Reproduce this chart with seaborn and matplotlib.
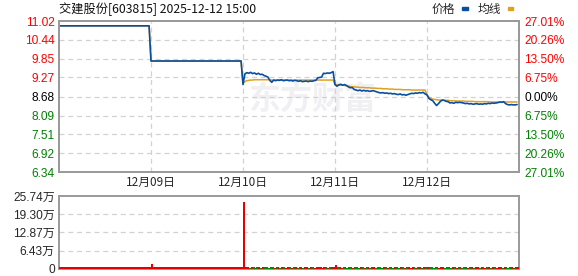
import numpy as np
import pandas as pd
import matplotlib
matplotlib.use("Agg")
import matplotlib.pyplot as plt
import seaborn as sns
from matplotlib.patches import Rectangle

# ---------------- data ----------------
title = "交建股份[603815] 2025-12-12 15:00"
day_labels = ["12月09日", "12月10日", "12月11日", "12月12日"]
price_ticks = [6.34, 6.92, 7.51, 8.09, 8.68, 9.27, 9.85, 10.44, 11.02]
pct_labels = ["27.01%", "20.26%", "13.50%", "6.75%", "0.00%", "6.75%", "13.50%", "20.26%", "27.01%"]
vol_ticks = [0, 6.43, 12.87, 19.30, 25.74]
vol_labels = ["0", "6.43万", "12.87万", "19.30万", "25.74万"]

price_d1 = [10.87] * 48
price_d2 = [9.78] * 48
price_d3 = [9.05, 9.38, 9.42, 9.40, 9.43, 9.39, 9.41, 9.37, 9.40, 9.36, 9.37, 9.33,
            9.31, 9.28, 9.18, 9.12, 9.19, 9.17, 9.19, 9.18, 9.20, 9.17, 9.18, 9.19,
            9.17, 9.18, 9.16, 9.18, 9.17, 9.15, 9.17, 9.14, 9.15, 9.16, 9.14, 9.16,
            9.15, 9.17, 9.18, 9.26, 9.27, 9.28, 9.40, 9.39, 9.41, 9.40, 9.42, 9.45]
price_d4 = [9.05, 9.00, 9.04, 9.06, 9.03, 9.05, 9.02, 8.98, 8.95, 8.96, 8.90, 8.88,
            8.86, 8.88, 8.85, 8.87, 8.85, 8.86, 8.84, 8.85, 8.86, 8.84, 8.82, 8.80,
            8.79, 8.80, 8.78, 8.79, 8.77, 8.78, 8.76, 8.77, 8.75, 8.74, 8.76, 8.73,
            8.74, 8.72, 8.74, 8.76, 8.78, 8.77, 8.79, 8.78, 8.80, 8.79, 8.81, 8.76]
price_d5 = [8.73, 8.62, 8.58, 8.55, 8.47, 8.40, 8.46, 8.53, 8.57, 8.56, 8.53, 8.52,
            8.48, 8.49, 8.47, 8.50, 8.49, 8.50, 8.49, 8.48, 8.46, 8.47, 8.45, 8.46,
            8.44, 8.45, 8.46, 8.44, 8.45, 8.44, 8.46, 8.45, 8.47, 8.46, 8.48, 8.47,
            8.48, 8.49, 8.51, 8.50, 8.52, 8.46, 8.43, 8.42, 8.43, 8.42, 8.42, 8.43]

avg_d1 = [10.87] * 48
avg_d2 = [9.78] * 48
avg_d3 = [9.10, 9.14, 9.17, 9.18, 9.19, 9.19, 9.20, 9.20, 9.20, 9.20, 9.20, 9.20,
          9.20, 9.20, 9.20, 9.19, 9.19, 9.19, 9.19, 9.19, 9.19, 9.19, 9.19, 9.19,
          9.19, 9.19, 9.19, 9.19, 9.19, 9.19, 9.19, 9.19, 9.19, 9.19, 9.19, 9.19,
          9.19, 9.19, 9.19, 9.19, 9.19, 9.19, 9.19, 9.19, 9.19, 9.19, 9.19, 9.19]
avg_d4 = [9.05, 9.04, 9.04, 9.03, 9.03, 9.02, 9.01, 9.00, 8.99, 8.98, 8.98, 8.97,
          8.97, 8.96, 8.96, 8.96, 8.95, 8.95, 8.95, 8.94, 8.94, 8.94, 8.93, 8.93,
          8.93, 8.92, 8.92, 8.92, 8.91, 8.91, 8.91, 8.90, 8.90, 8.90, 8.90, 8.89,
          8.89, 8.89, 8.89, 8.89, 8.88, 8.88, 8.88, 8.88, 8.88, 8.88, 8.88, 8.88]
avg_d5 = [8.73, 8.66, 8.62, 8.60, 8.59, 8.58, 8.57, 8.57, 8.57, 8.56, 8.56, 8.56,
          8.55, 8.55, 8.55, 8.54, 8.54, 8.54, 8.54, 8.54, 8.53, 8.53, 8.53, 8.53,
          8.53, 8.52, 8.52, 8.52, 8.52, 8.52, 8.52, 8.52, 8.52, 8.51, 8.51, 8.51,
          8.51, 8.51, 8.51, 8.51, 8.51, 8.51, 8.51, 8.51, 8.51, 8.51, 8.51, 8.51]

vol_d1 = [0.6] * 48
vol_d2 = [1.8] + [0.6] * 47
vol_d3 = [23.6, 0.7, 0.6, 0.5, 0.6, 0.7, 0.5, 0.6, 0.6, 0.5, 0.7, 0.6,
          0.6, 0.5, 0.7, 0.6, 0.5, 0.6, 0.6, 0.5, 0.6, 0.7, 0.5, 0.6,
          0.6, 0.5, 0.6, 0.6, 0.5, 0.6, 0.7, 0.5, 0.6, 0.6, 0.5, 0.6,
          0.6, 0.5, 0.6, 0.7, 0.6, 0.5, 0.7, 0.6, 0.5, 0.6, 0.6, 0.7]
vol_d4 = [1.4, 0.7, 0.6, 0.5, 0.6, 0.6, 0.5, 0.6, 0.7, 0.5, 0.6, 0.6,
          0.5, 0.6, 0.6, 0.5, 0.6, 0.7, 0.5, 0.6, 0.6, 0.5, 0.6, 0.6,
          0.5, 0.6, 0.7, 0.5, 0.6, 0.6, 0.5, 0.6, 0.6, 0.5, 0.6, 0.7,
          0.5, 0.6, 0.6, 0.5, 0.6, 0.6, 0.5, 0.6, 0.7, 0.5, 0.6, 0.6]
vol_d5 = [0.7, 0.6, 0.6, 0.5, 0.6, 0.7, 0.5, 0.6, 0.6, 0.5, 0.6, 0.6,
          0.5, 0.6, 0.7, 0.5, 0.6, 0.6, 0.5, 0.6, 0.6, 0.5, 0.6, 0.7,
          0.5, 0.6, 0.6, 0.5, 0.6, 0.6, 0.5, 0.6, 0.7, 0.5, 0.6, 0.6,
          0.5, 0.6, 0.6, 0.5, 0.6, 0.7, 0.5, 0.6, 0.6, 0.5, 0.6, 0.6]

price = price_d1 + price_d2 + price_d3 + price_d4 + price_d5
avg = avg_d1 + avg_d2 + avg_d3 + avg_d4 + avg_d5
vol = vol_d1 + vol_d2 + vol_d3 + vol_d4 + vol_d5
pts_per_day = len(price_d1)
n_days = 5

df = pd.DataFrame({"t": np.arange(len(price)), "price": price, "avg": avg, "vol": vol})
chg = df["price"].diff().fillna(0)
day_open = (df["t"] % pts_per_day) == 0
vol_colors = np.where((chg >= 0) | day_open, "#e60000", "#008a00")

# ---------------- style ----------------
sns.set_theme(style="white")
plt.rcParams["font.family"] = ["Liberation Sans", "Noto Sans CJK SC", "DejaVu Sans"]
cjk = ["Noto Sans CJK SC", "DejaVu Sans"]

RED, GREEN, BLACK = "#ff0000", "#008000", "#000000"
GRID = "#d2d2d2"
SPINE = "#9a9a9a"
BLUE, ORANGE = "#0a4ea0", "#e0a020"

fig = plt.figure(figsize=(5.78, 2.76), dpi=100)
ax = fig.add_axes([0.1021, 0.3768, 0.7958, 0.5471])
axv = fig.add_axes([0.1021, 0.0254, 0.7958, 0.2645])

xmax = pts_per_day * n_days
boundaries = [pts_per_day * k for k in range(1, n_days)]

# watermark
ax.text(0.55, 0.47, "东方财富", transform=ax.transAxes, ha="center", va="center",
        fontsize=23, fontweight="bold", color="#f0f0f3", family=cjk, zorder=0)

# grid
for v in price_ticks[1:-1]:
    ax.axhline(v, color=GRID, lw=0.9, ls=(0, (4, 3)), zorder=1)
for b in boundaries:
    ax.axvline(b, color=GRID, lw=0.9, ls=(0, (4, 3)), zorder=1)

sns.lineplot(data=df, x="t", y="avg", ax=ax, color=ORANGE, lw=1.1, estimator=None, zorder=3)
sns.lineplot(data=df, x="t", y="price", ax=ax, color=BLUE, lw=1.2, estimator=None, zorder=4)

ax.set_xlim(0, xmax)
ax.set_ylim(price_ticks[0], price_ticks[-1])
ax.set_xlabel("")
ax.set_ylabel("")
ax.set_yticks(price_ticks)
ax.set_yticklabels([f"{v:.2f}" for v in price_ticks], fontsize=8.6)
mid = len(price_ticks) // 2
for i, lab in enumerate(ax.get_yticklabels()):
    lab.set_color(GREEN if i < mid else (BLACK if i == mid else RED))
ax.set_xticks(boundaries)
ax.set_xticklabels(day_labels, fontsize=8.5, family=cjk)
ax.tick_params(axis="both", length=0, pad=3)

ax2 = ax.twinx()
ax2.set_ylim(price_ticks[0], price_ticks[-1])
ax2.set_yticks(price_ticks)
ax2.set_yticklabels(pct_labels, fontsize=8.6)
for i, lab in enumerate(ax2.get_yticklabels()):
    lab.set_color(GREEN if i < mid else (BLACK if i == mid else RED))
ax2.tick_params(axis="y", length=0, pad=4)

for a in (ax, ax2, axv):
    for s in a.spines.values():
        s.set_color(SPINE)
        s.set_linewidth(1.4)

# volume panel
for v in vol_ticks[1:-1]:
    axv.axhline(v, color=GRID, lw=0.9, ls=(0, (4, 3)), zorder=1)
axv.bar(df["t"], df["vol"], width=1.0, color=vol_colors, linewidth=0, align="edge", zorder=3)
axv.set_xlim(0, xmax)
axv.set_ylim(0, vol_ticks[-1])
axv.set_xticks([])
axv.set_yticks(vol_ticks)
axv.set_yticklabels(vol_labels, fontsize=8.6)
axv.tick_params(axis="y", length=0, pad=3)

# title & legend
fig.text(0.1021, 0.965, title, fontsize=8.8, family=cjk, ha="left", va="center", color="#111111")
fig.text(0.747, 0.965, "价格", fontsize=8.5, family=cjk, ha="left", va="center")
fig.add_artist(Rectangle((0.800, 0.963), 0.009, 0.012, transform=fig.transFigure, color=BLUE))
fig.text(0.826, 0.965, "均线", fontsize=8.5, family=cjk, ha="left", va="center")
fig.add_artist(Rectangle((0.879, 0.963), 0.009, 0.012, transform=fig.transFigure, color=ORANGE))

fig.savefig("out.png", dpi=100)
